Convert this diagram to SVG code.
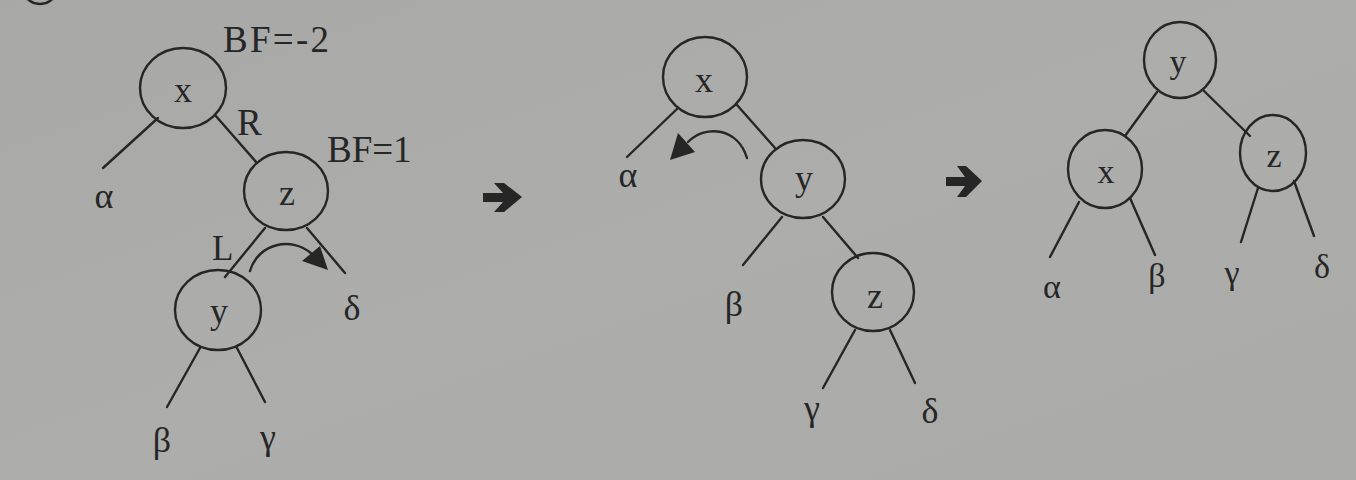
<svg xmlns="http://www.w3.org/2000/svg" width="1356" height="480" viewBox="0 0 1356 480">
<defs>
<linearGradient id="bg" x1="0" y1="0" x2="1" y2="1">
<stop offset="0" stop-color="#a8a9a7"/>
<stop offset="0.5" stop-color="#adaeac"/>
<stop offset="1" stop-color="#aaaba9"/>
</linearGradient>
<style>
.n{fill:none;stroke:#262626;stroke-width:2.4}
.e{stroke:#262626;stroke-width:2.4;fill:none;stroke-linecap:round}
text{font-family:'Liberation Serif','Times New Roman','DejaVu Serif',serif;fill:#262626}
.t{font-size:36px;text-anchor:middle}
.t3{font-size:34px}
.lb{font-size:37px}
.h{fill:#262626;stroke:none}
</style>
</defs>
<rect width="1356" height="480" fill="url(#bg)"/>
<ellipse cx="40" cy="-14" rx="18" ry="18" class="n"/>

<g id="connectors">
<line class="e" x1="158" y1="118" x2="103" y2="168"/>
<line class="e" x1="215" y1="115" x2="257" y2="163"/>
<line class="e" x1="265" y1="228" x2="225" y2="277"/>
<line class="e" x1="307" y1="228" x2="345" y2="273"/>
<line class="e" x1="200" y1="348" x2="167" y2="407"/>
<line class="e" x1="237" y1="348" x2="265" y2="402"/>
<path class="e" d="M250,271 C258,243 292,236 312,254"/>
<polygon class="h" points="328,270 302,261 320,246"/>

<line class="e" x1="678" y1="108" x2="627" y2="157"/>
<line class="e" x1="737" y1="105" x2="775" y2="148"/>
<line class="e" x1="782" y1="217" x2="743" y2="265"/>
<line class="e" x1="823" y1="217" x2="858" y2="258"/>
<line class="e" x1="855" y1="330" x2="823" y2="388"/>
<line class="e" x1="890" y1="330" x2="915" y2="383"/>
<path class="e" d="M747,158 C738,128 706,124 688,142"/>
<polygon class="h" points="670,160 678,133 695,152"/>

<line class="e" x1="1157" y1="92" x2="1125" y2="136"/>
<line class="e" x1="1203" y1="90" x2="1250" y2="136"/>
<line class="e" x1="1079" y1="202" x2="1050" y2="257"/>
<line class="e" x1="1130" y1="198" x2="1155" y2="255"/>
<line class="e" x1="1258" y1="188" x2="1241" y2="242"/>
<line class="e" x1="1294" y1="181" x2="1314" y2="236"/>

<polygon class="h" points="483,193 503,193 494,183 504,183 522,197 504,212 494,212 503,202 483,202"/>
<polygon class="h" points="946,177 965,177 957,166 966,166 982,181 966,197 957,197 965,186 946,186"/>
</g>

<g id="tree1">
<g id="t1-x"><ellipse class="n" cx="183" cy="88" rx="43" ry="40"/><text class="t" x="183" y="102">x</text></g>
<g id="t1-z"><ellipse class="n" cx="286" cy="191" rx="42" ry="39"/><text class="t" x="287" y="205">z</text></g>
<g id="t1-y"><ellipse class="n" cx="218" cy="310" rx="43" ry="40"/><text class="t" x="219" y="323">y</text></g>
<g id="t1-labels">
<text class="lb" x="223" y="52" textLength="106" lengthAdjust="spacing">BF=-2</text>
<text class="lb" x="237" y="135">R</text>
<text class="lb" x="327" y="162">BF=1</text>
<text class="lb" x="212" y="260" style="font-size:35px">L</text>
<text class="t" x="104" y="208">α</text>
<text class="t" x="162" y="452">β</text>
<text class="t" x="268" y="449">γ</text>
<text class="t" x="352" y="320">δ</text>
</g>
</g>

<g id="tree2">
<g id="t2-x"><ellipse class="n" cx="705" cy="77" rx="42" ry="40"/><text class="t" x="704" y="92">x</text></g>
<g id="t2-y"><ellipse class="n" cx="803" cy="179" rx="42" ry="39"/><text class="t" x="804" y="190">y</text></g>
<g id="t2-z"><ellipse class="n" cx="873" cy="292" rx="41" ry="39"/><text class="t" x="875" y="308">z</text></g>
<g id="t2-labels">
<text class="t" x="628" y="187">α</text>
<text class="t" x="734" y="316">β</text>
<text class="t" x="812" y="420">γ</text>
<text class="t" x="930" y="423">δ</text>
</g>
</g>

<g id="tree3">
<g id="t3-y"><ellipse class="n" cx="1180" cy="60" rx="36" ry="38"/><text class="t t3" x="1178" y="73">y</text></g>
<g id="t3-x"><ellipse class="n" cx="1105" cy="169" rx="37" ry="39"/><text class="t t3" x="1106" y="183">x</text></g>
<g id="t3-z"><ellipse class="n" cx="1273" cy="153" rx="33" ry="38"/><text class="t t3" x="1274" y="167">z</text></g>
<g id="t3-labels">
<text class="t t3" x="1052" y="298">α</text>
<text class="t t3" x="1157" y="287">β</text>
<text class="t t3" x="1232" y="284">γ</text>
<text class="t t3" x="1322" y="278">δ</text>
</g>
</g>
</svg>
